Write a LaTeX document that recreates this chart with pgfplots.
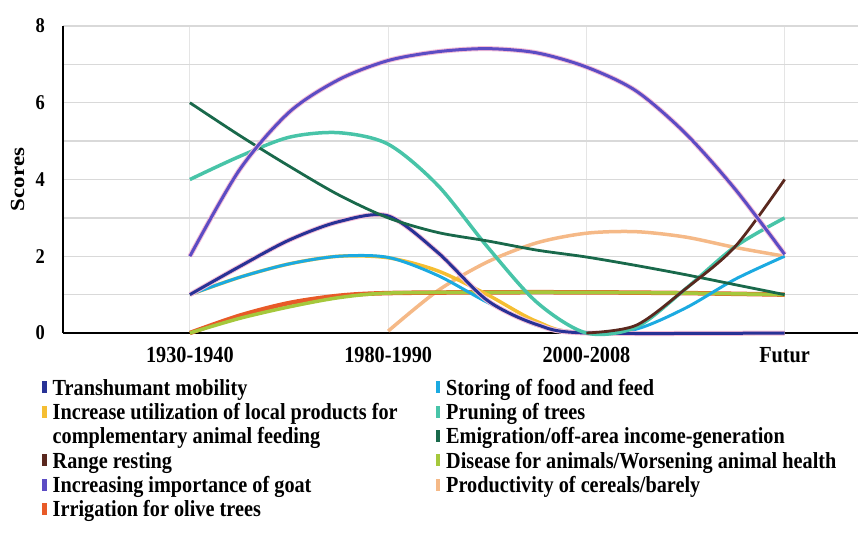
\documentclass[border=0pt]{standalone}
\usepackage{fontspec}
\setmainfont{Liberation Serif}[FakeStretch=0.88]
\usepackage{pgfplots}
\pgfplotsset{compat=1.18}

\definecolor{transh}{RGB}{40,50,150}
\definecolor{storing}{RGB}{27,170,225}
\definecolor{increase}{RGB}{245,190,50}
\definecolor{pruning}{RGB}{72,196,168}
\definecolor{emig}{RGB}{25,105,75}
\definecolor{rangecol}{RGB}{90,40,30}
\definecolor{disease}{RGB}{165,200,60}
\definecolor{goat}{RGB}{92,76,196}
\definecolor{cereal}{RGB}{245,185,135}
\definecolor{irrig}{RGB}{232,90,40}
\definecolor{halo}{RGB}{245,190,215}

\begin{document}
\begin{tikzpicture}
\path[use as bounding box] (-63pt,-204pt) rectangle (798pt,333pt);
\begin{axis}[
    at={(0pt,0pt)}, anchor=south west,
    scale only axis,
    width=795pt, height=307pt,
    xmin=-0.64, xmax=3.37,
    ymin=0, ymax=8,
    axis lines=left,
    axis line style={-, draw=black, line width=1.6pt},
    xtick={0,1,2,3},
    xticklabels={1930-1940,1980-1990,2000-2008,Futur},
    ytick={0,2,4,6,8},
    minor ytick={1,3,5,7},
    xmajorgrids, ymajorgrids, yminorgrids,
    major y grid style={draw=black!15, line width=1.3pt},
    minor y grid style={draw=black!15, line width=1.3pt},
    major x grid style={draw=black!10, line width=0.8pt},
    major tick length=0pt, minor tick length=0pt,
    /pgf/number format/assume math mode=true,
    xticklabel style={font=\fontsize{23}{26}\selectfont\bfseries, inner sep=0pt, yshift=-14pt},
    yticklabel style={font=\fontsize{21}{24}\selectfont\bfseries, inner sep=0pt, xshift=-18pt},
    ylabel={\scalebox{1.3}[1]{Scores}},
    ylabel style={font=\fontsize{20}{24}\selectfont\bfseries, at={(axis description cs:-0.057,0.5)}, anchor=center, rotate=0},
    legend columns=2,
    legend cell align=left,
    legend style={at={(axis description cs:-0.0264,-0.1466)}, anchor=north west,
        draw=none, fill=none, inner sep=0pt, column sep=0pt, row sep=0pt,
        font=\fontsize{23}{26}\selectfont\bfseries,
        nodes={inner xsep=6pt, inner ysep=0pt, text height=17pt, text depth=7.3pt}},
    legend image code/.code={\fill (0pt,-3pt) rectangle (4.5pt,9pt);},
    clip=false,
    every axis plot/.append style={smooth, forget plot},
]
% scores, at quarter steps between periods
\addplot[cereal, line width=3.5pt] coordinates {(1,0.05) (1.25,1.1) (1.5,1.85) (1.75,2.35) (2,2.6) (2.25,2.64) (2.5,2.5) (2.75,2.23) (3,2)};
\addplot[irrig, line width=4.5pt] coordinates {(0,0) (0.25,0.45) (0.5,0.78) (0.75,0.97) (1,1.04) (1.5,1.06) (2,1.06) (2.5,1.04) (3,1)};
\addplot[disease, line width=3.5pt] coordinates {(0,0) (0.25,0.38) (0.5,0.68) (0.75,0.92) (1,1.04) (1.5,1.06) (2,1.06) (2.5,1.04) (3,1)};
\addplot[increase, line width=3.5pt] coordinates {(0,1) (0.25,1.45) (0.5,1.8) (0.75,2) (1,1.96) (1.25,1.62) (1.5,1.0) (1.75,0.3) (2,0) (3,0)};
\addplot[storing, line width=3pt] coordinates {(0,1) (0.25,1.45) (0.5,1.8) (0.75,2) (1,1.97) (1.25,1.5) (1.5,0.8) (1.75,0.2) (2,0) (2.25,0.1) (2.5,0.65) (2.75,1.4) (3,2)};
\addplot[halo, line width=5pt] coordinates {(0,1) (0.25,1.73) (0.5,2.42) (0.75,2.9) (1,3.05) (1.25,2.1) (1.5,0.85) (1.75,0.22) (2,0) (3,0)};
\addplot[transh, line width=3pt] coordinates {(0,1) (0.25,1.73) (0.5,2.42) (0.75,2.9) (1,3.05) (1.25,2.1) (1.5,0.85) (1.75,0.22) (2,0) (3,0)};
\addplot[pruning, line width=3.5pt] coordinates {(0,4) (0.25,4.6) (0.5,5.1) (0.75,5.22) (1,4.92) (1.25,3.85) (1.5,2.25) (1.75,0.8) (2,0) (2.25,0.15) (2.5,1.15) (2.75,2.25) (3,3)};
\addplot[emig, line width=2.8pt] coordinates {(0,6) (0.25,5.15) (0.5,4.35) (0.75,3.6) (1,3) (1.25,2.62) (1.5,2.4) (1.75,2.16) (2,1.98) (2.25,1.76) (2.5,1.52) (2.75,1.26) (3,1)};
\addplot[rangecol, line width=2.8pt] coordinates {(2,0) (2.25,0.2) (2.5,1.15) (2.75,2.25) (3,4)};
\addplot[halo, line width=5pt] coordinates {(0,2) (0.25,4.25) (0.5,5.75) (0.75,6.6) (1,7.1) (1.25,7.33) (1.5,7.41) (1.75,7.3) (2,6.93) (2.25,6.31) (2.5,5.2) (2.75,3.75) (3,2.05)};
\addplot[goat, line width=3pt] coordinates {(0,2) (0.25,4.25) (0.5,5.75) (0.75,6.6) (1,7.1) (1.25,7.33) (1.5,7.41) (1.75,7.3) (2,6.93) (2.25,6.31) (2.5,5.2) (2.75,3.75) (3,2.05)};

\addlegendimage{fill=transh, draw=none}
\addlegendentry{\makebox[377pt][l]{Transhumant mobility}}
\addlegendimage{fill=storing, draw=none}
\addlegendentry{Storing of food and feed}
\addlegendimage{fill=increase, draw=none}
\addlegendentry{\makebox[377pt][l]{Increase utilization of local products for}}
\addlegendimage{fill=pruning, draw=none}
\addlegendentry{Pruning of trees}
\addlegendimage{empty legend}
\addlegendentry{\makebox[377pt][l]{complementary animal feeding}}
\addlegendimage{fill=emig, draw=none}
\addlegendentry{Emigration/off-area income-generation}
\addlegendimage{fill=rangecol, draw=none}
\addlegendentry{\makebox[377pt][l]{Range resting}}
\addlegendimage{fill=disease, draw=none}
\addlegendentry{Disease for animals/Worsening animal health}
\addlegendimage{fill=goat, draw=none}
\addlegendentry{\makebox[377pt][l]{Increasing importance of goat}}
\addlegendimage{fill=cereal, draw=none}
\addlegendentry{Productivity of cereals/barely}
\addlegendimage{fill=irrig, draw=none}
\addlegendentry{\makebox[377pt][l]{Irrigation for olive trees}}
\end{axis}
\end{tikzpicture}
\end{document}
